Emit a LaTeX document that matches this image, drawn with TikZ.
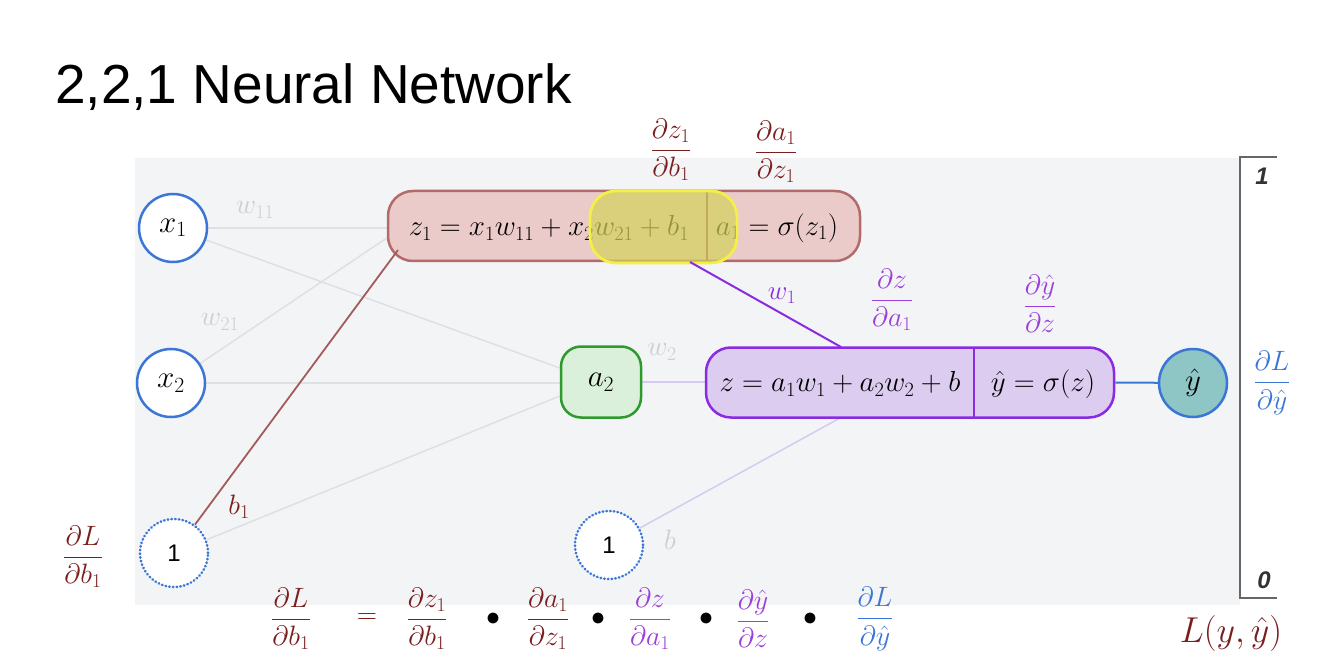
\RequirePackage{fix-cm}
\documentclass[tikz,border=0pt]{standalone}
\usepackage{fontspec}
\setsansfont{Liberation Sans}
\usepackage{amsmath}
\usetikzlibrary{calc}
\pgfdeclarelayer{bglayer}
\pgfsetlayers{bglayer,main}
\definecolor{dred}{HTML}{7A1E1E}
\definecolor{bline}{HTML}{A35A5A}
\definecolor{purp}{HTML}{8A2BE2}
\definecolor{purpt}{HTML}{9B3FD9}
\definecolor{nblue}{HTML}{3B76D6}
\definecolor{faint}{HTML}{DFE0E4}
\definecolor{faintt}{HTML}{CDCDD4}
\definecolor{faintp}{HTML}{D6CAF2}
\definecolor{bgc}{HTML}{F3F4F6}
\definecolor{zfill}{HTML}{EBCACA}
\definecolor{zdraw}{HTML}{B46A6A}
\definecolor{pfill}{HTML}{DCCCF0}
\definecolor{gfill}{HTML}{DBF0DB}
\definecolor{gdraw}{HTML}{2E9A2E}
\definecolor{tfill}{HTML}{8EC5C5}
\definecolor{yel}{HTML}{D4D25A}
\definecolor{yeldraw}{HTML}{F5F045}
\definecolor{brk}{HTML}{666666}
\newcommand\mfont{\fontsize{29}{34}\selectfont}
\newcommand\pfr[2]{\dfrac{\partial #1}{\partial #2}}
\begin{document}
\begin{tikzpicture}[x=1pt,y=-1pt,
  neuron/.style={circle, draw=nblue, line width=2.5pt, fill=white, minimum size=68pt, inner sep=0pt, font=\fontsize{31}{36}\selectfont},
  biasn/.style={neuron, dash pattern=on 0.5pt off 3.2pt, line cap=round, line width=2.6pt, font=\fontsize{24}{28}\selectfont\sffamily},
  layerbox/.style={rounded corners=25pt, line width=2.5pt, minimum height=70pt, inner sep=0pt},
  mtext/.style={font=\mfont, inner sep=0pt},
  frac/.style={font=\fontsize{28}{32}\selectfont, inner sep=0pt},
  faintline/.style={draw=faint, line width=1.5pt},
  wlabel/.style={font=\fontsize{28}{32}\selectfont, text=faintt, inner sep=0pt}
]
\useasboundingbox (0,0) rectangle (1327,660);
\begin{pgfonlayer}{bglayer}
\fill[white] (0,0) rectangle (1327,660);
\fill[bgc] (135,158) rectangle (1240,605);
\end{pgfonlayer}

% title
\node[anchor=base west, inner sep=0pt, font=\fontsize{55}{62}\selectfont\sffamily] (title) at (55,104) {2,2,1 Neural Network};

% nodes
\node[neuron] (x1) at (173,228) {$x_1$};
\node[neuron] (x2) at (171,383) {$x_2$};
\node[biasn] (one1) at (174,553) {1};
\node[biasn] (one2) at (609,545) {1};
\node[neuron, fill=tfill] (yhat) at (1193,383) {$\hat y$};
\node[layerbox, draw=gdraw, fill=gfill, minimum width=80pt, minimum height=71pt, rounded corners=20pt, font=\fontsize{31}{36}\selectfont] (a2) at (601,382) {$a_2$};
\node[layerbox, draw=zdraw, fill=zfill, minimum width=472pt] (L1) at (624,226) {};
\node[layerbox, draw=purp, fill=pfill, minimum width=408pt] (L2) at (910,382.5) {};

% texts inside boxes
\node[mtext] (z1eq) at (549,228) {$z_1 = x_1w_{11} + x_2w_{21} + b_1$};
\node[mtext] (a1eq) at (777,228) {$a_1 = \sigma(z_1)$};
\draw[draw=zdraw!80!black, line width=1.5pt] (707,192) -- (707,260);
\node[mtext] (zeq) at (840,384) {$z = a_1w_1 + a_2w_2 + b$};
\node[mtext] (yeq) at (1043,384) {$\hat y = \sigma(z)$};
\draw[draw=purp, line width=2pt] (974,348) -- (974,417);

% yellow highlight
\node[rounded corners=26pt, minimum width=147pt, minimum height=72pt, inner sep=0pt, fill=yel, fill opacity=0.7, draw=yeldraw, draw opacity=1, line width=2.8pt] (hl) at (663.5,227) {};

% connectors
\coordinate (L1b) at (398,250);
\coordinate (w1s) at (690,262);
\coordinate (w1e) at (841,347);
\coordinate (bE) at (840,418);
\begin{pgfonlayer}{bglayer}
\draw[faintline] (x1) -- (x1 -| L1.west);
\draw[faintline] (x1) -- ([yshift=14pt]a2.west);
\draw[faintline] (x2) -- ([yshift=-12pt]L1.west);
\draw[faintline] (x2) -- (x2 -| a2.west);
\draw[faintline] (one1) -- ([yshift=-14pt]a2.west);
\draw[draw=faintp, line width=1.5pt] (a2.east) -- (a2.east -| L2.west);
\draw[draw=faintp, line width=1.5pt] (one2) -- (bE);
\end{pgfonlayer}
\draw[draw=bline, line width=1.8pt] (one1) -- (L1b);
\draw[draw=purp, line width=2pt] (w1s) -- (w1e);
\draw[draw=nblue, line width=2pt] (L2.east) -- (yhat);

% edge labels
\node[wlabel] (lw11) at (255,210) {$w_{11}$};
\node[wlabel] (lw21) at (220,322) {$w_{21}$};
\node[wlabel] (lw2) at (662,352) {$w_2$};
\node[wlabel] (lb) at (670,540) {$b$};
\node[frac, text=dred] (lb1) at (239,507) {$b_1$};
\node[font=\fontsize{27}{30}\selectfont, inner sep=0pt, text=purp] (lw1) at (782,296) {$w_1$};

% partial derivative labels
\node[frac, text=dred] (d1) at (671,150) {$\pfr{z_1}{b_1}$};
\node[frac, text=dred] (d2) at (776,152) {$\pfr{a_1}{z_1}$};
\node[frac, text=purpt] (d3) at (892,300) {$\pfr{z}{a_1}$};
\node[frac, text=purpt] (d4) at (1040,304) {$\pfr{\hat y}{z}$};
\node[frac, text=nblue] (d5) at (1272,383) {$\pfr{L}{\hat y}$};
\node[frac, text=dred] (d6) at (83,557) {$\pfr{L}{b_1}$};

% bracket
\draw[draw=brk, line width=2.5pt] (1277,157) -- (1240,157) -- (1240,598) -- (1277,598);
\node[inner sep=0pt, font=\fontsize{24}{28}\selectfont\sffamily\bfseries\itshape, text=black!80] (one) at (1262,176) {1};
\node[inner sep=0pt, font=\fontsize{24}{28}\selectfont\sffamily\bfseries\itshape, text=black!80] (zero) at (1264,580) {0};

% bottom equation
\node[frac, text=dred] (e1) at (291,619) {$\pfr{L}{b_1}$};
\node[frac, text=dred] (eq) at (367,619) {$=$};
\node[frac, text=dred] (e2) at (427,619) {$\pfr{z_1}{b_1}$};
\node[frac] (m1) at (493,619) {$\bullet$};
\node[frac, text=dred] (e3) at (548,619) {$\pfr{a_1}{z_1}$};
\node[frac] (m2) at (598,619) {$\bullet$};
\node[frac, text=purpt] (e4) at (650,619) {$\pfr{z}{a_1}$};
\node[frac] (m3) at (706,619) {$\bullet$};
\node[frac, text=purpt] (e5) at (753,619) {$\pfr{\hat y}{z}$};
\node[frac] (m4) at (810,619) {$\bullet$};
\node[frac, text=nblue] (e6) at (875,619) {$\pfr{L}{\hat y}$};

\node[inner sep=0pt, font=\fontsize{36}{40}\selectfont, text=dred] (loss) at (1231,633) {$L(y,\hat y)$};
\end{tikzpicture}
\end{document}
